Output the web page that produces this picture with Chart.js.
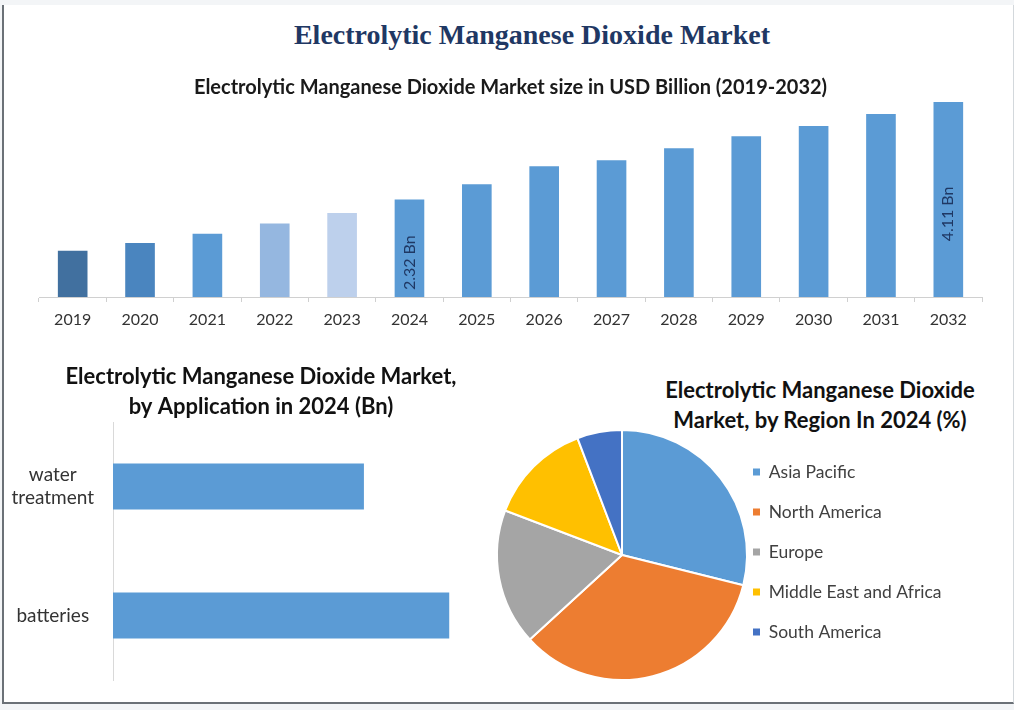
<!DOCTYPE html>
<html>
<head>
<meta charset="utf-8">
<script src="https://cdn.jsdelivr.net/npm/chart.js@4.4.1/dist/chart.umd.min.js"></script>
<style>
  html, body { margin: 0; padding: 0; width: 1014px; height: 710px; overflow: hidden; background: #f3f5f7; }
  #frame { position: absolute; left: 2px; top: 5px; width: 1009px; height: 697px; background: #ffffff;
           border-left: 2px solid #6b7177; border-bottom: 2px solid #6b7177; border-right: 1px solid #d3d8dc; }
  canvas { position: absolute; }
  .heading { position: absolute; text-align: center; white-space: nowrap; }
  #mainTitle { left: 232px; width: 600px; top: 20px; line-height: 30px; font-family: "Liberation Serif", serif;
               font-weight: bold; font-size: 28px; color: #1f3864; }
  #pieTitle { left: 620px; width: 400px; top: 375px; line-height: 30px; font-family: Lato, sans-serif;
              font-weight: bold; font-size: 22px; color: #111; }
</style>
</head>
<body>
<div id="frame"></div>
<div class="heading" id="mainTitle">Electrolytic Manganese Dioxide Market</div>
<div class="heading" id="pieTitle">Electrolytic Manganese Dioxide<br>Market, by Region In 2024 (%)</div>
<canvas id="sizeChart" width="1014" height="285" style="left:0px;top:60px;"></canvas>
<canvas id="appChart" width="522" height="345" style="left:0px;top:345px;"></canvas>
<canvas id="regionChart" width="534" height="270" style="left:480px;top:420px;"></canvas>
<script>
// ---------- data ----------
const years = ['2019', '2020', '2021', '2022', '2023', '2024', '2025', '2026', '2027', '2028', '2029', '2030', '2031', '2032'];
const marketSize = [1.38, 1.52, 1.69, 1.88, 2.07, 2.32, 2.60, 2.93, 3.04, 3.26, 3.48, 3.67, 3.89, 4.11];
const barLabels = ['', '', '', '', '', '2.32 Bn', '', '', '', '', '', '', '', '4.11 Bn'];

const applications = [['water', 'treatment'], 'batteries'];
const applicationValues = [1.00, 1.34];

const regions = ['Asia Pacific', 'North America', 'Europe', 'Middle East and Africa', 'South America'];
const regionShares = [28.9, 34.3, 17.6, 13.4, 5.8];

// ---------- styles ----------
const yearColors = ['#41709f', '#4a85bf', '#5b9bd5', '#95b7e0', '#bdd0ec',
                    '#5b9bd5', '#5b9bd5', '#5b9bd5', '#5b9bd5', '#5b9bd5', '#5b9bd5', '#5b9bd5', '#5b9bd5', '#5b9bd5'];
const regionColors = ['#5b9bd5', '#ed7d31', '#a5a5a5', '#ffc000', '#4472c4'];
const FONT = 'Lato, "Open Sans", sans-serif';

Chart.defaults.font.family = FONT;
Chart.defaults.animation = false;
Chart.defaults.plugins.tooltip.enabled = false;

const barValueLabels = {
  id: 'barValueLabels',
  afterDatasetsDraw(chart) {
    const meta = chart.getDatasetMeta(0);
    const ctx = chart.ctx;
    ctx.save();
    ctx.font = '16px ' + FONT;
    ctx.fillStyle = '#1f3864';
    ctx.textAlign = 'center';
    ctx.textBaseline = 'middle';
    meta.data.forEach((bar, i) => {
      const txt = barLabels[i];
      if (!txt) return;
      const cy = (bar.y + bar.base) / 2;
      ctx.save();
      ctx.translate(bar.x, cy);
      ctx.rotate(-Math.PI / 2);
      ctx.fillText(txt, 0, 0);
      ctx.restore();
    });
    ctx.restore();
  }
};

// ---------- market size chart ----------
new Chart(document.getElementById('sizeChart'), {
  type: 'bar',
  data: {
    labels: years,
    datasets: [{ data: marketSize, backgroundColor: yearColors, barPercentage: 0.44, categoryPercentage: 1.0 }]
  },
  options: {
    responsive: false,
    layout: { padding: { left: 39, right: 32, top: 0, bottom: 7.8 } },
    plugins: {
      legend: { display: false },
      title: {
        display: true,
        text: 'Electrolytic Manganese Dioxide Market size in USD Billion (2019-2032)',
        color: '#1a1a1a',
        font: { size: 20, weight: 'bold' },
        padding: { top: 15.5, bottom: 0 }
      }
    },
    scales: {
      x: {
        grid: { display: true, drawOnChartArea: false, drawTicks: true, tickLength: 5, color: '#d0d0d0', offset: true },
        border: { display: true, color: '#d0d0d0' },
        ticks: { color: '#333333', font: { size: 16 }, padding: 8, maxRotation: 0 }
      },
      y: { display: false, min: 0.53, max: 4.156 }
    }
  },
  plugins: [barValueLabels]
});

// ---------- application chart ----------
new Chart(document.getElementById('appChart'), {
  type: 'bar',
  data: {
    labels: applications,
    datasets: [{ data: applicationValues, backgroundColor: '#5b9bd5', barPercentage: 0.357, categoryPercentage: 1.0 }]
  },
  options: {
    indexAxis: 'y',
    responsive: false,
    layout: { padding: { left: 0, right: 0, top: 0, bottom: 10 } },
    plugins: {
      legend: { display: false },
      title: {
        display: true,
        text: ['Electrolytic Manganese Dioxide Market,', 'by Application in 2024 (Bn)'],
        color: '#111111',
        font: { size: 22, weight: 'bold', lineHeight: 1.364 },
        padding: { top: 17, bottom: 0 }
      }
    },
    scales: {
      x: { display: false, min: 0, max: 1.63 },
      y: {
        afterFit(scale) {
          scale.width = 113;
          scale.paddingTop = 0;
          scale.paddingBottom = 0;
        },
        grid: { display: false, drawTicks: false },
        border: { display: true, color: '#d9d9d9' },
        ticks: { color: '#333333', font: { size: 19, lineHeight: 1.24 }, crossAlign: 'center', padding: 19 }
      }
    }
  }
});

// ---------- region chart ----------
// legend geometry: box left edge at x=753, rows 40px apart, first row centred at y=472; pie centred at (622,555)
const pieLayout = (() => {
  const mctx = document.createElement('canvas').getContext('2d');
  const canvasLeft = 480, canvasTop = 420, canvasW = 534, canvasH = 270;
  for (let fs = 18; fs >= 13; fs -= 0.5) {
    mctx.font = fs + 'px ' + FONT;
    const tw = Math.max(...regions.map(r => mctx.measureText(r).width));
    const pad = 40 - fs;
    const legendLeft = 753 - pad;
    const chartW = 2 * (legendLeft - 622);
    const legendW = pad + 7 + fs / 2 + tw + 2;
    if (legendW <= chartW - 1) {
      const top = 472 - fs / 2 - pad;
      const bottom = 2 * 555 - top;
      return {
        fs, pad, legendW,
        padding: {
          left: (622 - chartW / 2) - canvasLeft,
          right: canvasW - (legendLeft + legendW - canvasLeft),
          top: top - canvasTop,
          bottom: canvasTop + canvasH - bottom
        }
      };
    }
  }
  return { fs: 14, pad: 26, legendW: 200, padding: { left: 30, right: 60, top: 20, bottom: 20 } };
})();

new Chart(document.getElementById('regionChart'), {
  type: 'pie',
  data: {
    labels: regions,
    datasets: [{ data: regionShares, backgroundColor: regionColors, borderColor: '#ffffff', borderWidth: 2, radius: 125, clip: false }]
  },
  options: {
    responsive: false,
    layout: { padding: pieLayout.padding },
    plugins: {
      legend: {
        position: 'right',
        align: 'start',
        maxWidth: pieLayout.legendW,
        labels: {
          boxWidth: 7, boxHeight: 7, padding: pieLayout.pad, color: '#404040', font: { size: pieLayout.fs },
          generateLabels(chart) {
            return Chart.overrides.pie.plugins.legend.labels.generateLabels(chart)
              .map(item => Object.assign(item, { lineWidth: 0, strokeStyle: 'rgba(0,0,0,0)' }));
          }
        }
      }
    }
  }
});
</script>
</body>
</html>
